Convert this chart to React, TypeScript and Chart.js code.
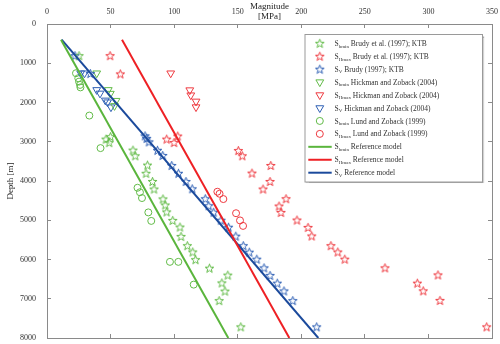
import React, { useEffect, useRef } from 'react';
import { Chart, registerables } from 'chart.js';

Chart.register(...registerables);

const FONT = '"Liberation Serif", "Times New Roman", serif';

// ---- Data (Magnitude in MPa, Depth in m) ----
const shminBrudyMPa = [25.2, 46.4, 49.9, 48.9, 67.6, 69.4, 79.0, 77.9, 83.0, 84.2, 91.2, 93.0, 94.1, 98.9, 104.6, 105.4, 110.4, 114.6, 116.8, 127.8, 142.2, 137.5, 140.0, 135.4, 152.4];
const shminBrudyDepth = [806, 2933, 2870, 3022, 3213, 3358, 3595, 3803, 4012, 4205, 4457, 4610, 4788, 5004, 5172, 5411, 5648, 5808, 6004, 6220, 6398, 6597, 6805, 7047, 7716];

const shmaxBrudyMPa = [49.6, 57.7, 94.1, 99.9, 102.8, 150.5, 153.6, 161.2, 176.0, 169.9, 175.4, 188.0, 182.5, 184.0, 196.6, 205.3, 208.2, 223.3, 228.7, 234.2, 265.8, 307.5, 291.3, 295.9, 309.1, 345.8];
const shmaxBrudyDepth = [806, 1272, 2933, 3020, 2854, 3223, 3358, 3798, 3605, 4205, 4012, 4452, 4638, 4800, 4994, 5182, 5401, 5648, 5808, 5991, 6212, 6393, 6602, 6798, 7042, 7716];

const svBrudyMPa = [22.0, 34.1, 77.1, 78.4, 80.2, 86.9, 91.0, 98.1, 103.4, 109.3, 114.2, 124.5, 127.2, 131.1, 136.9, 142.8, 148.5, 154.4, 159.1, 165.0, 170.7, 175.4, 181.1, 186.4, 193.3, 212.1];
const svBrudyDepth = [806, 1262, 2849, 2913, 3002, 3218, 3350, 3605, 3803, 4012, 4198, 4452, 4630, 4795, 4999, 5177, 5406, 5648, 5813, 5991, 6212, 6406, 6602, 6800, 7047, 7716];

const shminHickmanMPa = [39.1, 48.2, 49.8, 54.3, 53.1];
const shminHickmanDepth = [1254, 1679, 1773, 1954, 2086];

const shmaxHickmanMPa = [97.3, 112.3, 113.1, 117.2, 117.2];
const shmaxHickmanDepth = [1254, 1684, 1814, 1972, 2117];

const svHickmanMPa = [26.5, 29.5, 39.1, 41.7, 45.9, 47.6, 50.3];
const svHickmanDepth = [1254, 1254, 1679, 1768, 1946, 1992, 2119];

const shminLundMPa = [22.8, 24.6, 25.2, 26.0, 26.3, 33.3, 42.1, 71.2, 73.1, 74.7, 79.7, 82.0, 96.7, 103.3, 115.4];
const shminLundDepth = [1254, 1381, 1468, 1552, 1615, 2333, 3162, 4172, 4287, 4434, 4800, 5017, 6060, 6060, 6640];

const shmaxLundMPa = [134.0, 135.7, 138.7, 148.7, 151.8, 154.2];
const shmaxLundDepth = [4274, 4325, 4460, 4821, 5004, 5144];

const shminRefMPa = [11, 142.6];
const shminRefDepth = [400, 8000];
const shmaxRefMPa = [59, 190.6];
const shmaxRefDepth = [400, 8000];
const svRefMPa = [11.5, 213.4];
const svRefDepth = [400, 8000];

const xTickValues = [0, 50, 100, 150, 200, 250, 300, 350];
const yTickValues = [0, 1000, 2000, 3000, 4000, 5000, 6000, 7000, 8000];

const legendSubs = ['hmin', 'Hmax', 'V', 'hmin', 'Hmax', 'V', 'hmin', 'Hmax', 'hmin', 'Hmax', 'V'];
const legendTexts = [
  ' Brudy et al. (1997); KTB',
  ' Brudy et al. (1997); KTB',
  ' Brudy (1997); KTB',
  ' Hickman and Zoback (2004)',
  ' Hickman and Zoback (2004)',
  ' Hickman and Zoback (2004)',
  ' Lund and Zoback (1999)',
  ' Lund and Zoback (1999)',
  ' Reference model',
  ' Reference model',
  ' Reference model',
];

const GREEN = '#62bb48';
const RED = '#ee3a40';
const BLUE = '#2f60b5';
const GREEN_LINE = '#5ab53c';
const RED_LINE = '#ee2024';
const BLUE_LINE = '#1b4a9c';

function pts(xs: number[], ys: number[]) {
  return xs.map((x, i) => ({ x, y: ys[i] }));
}

function makeStar(color: string): HTMLCanvasElement {
  const c = document.createElement('canvas');
  c.width = 11;
  c.height = 11;
  const g = c.getContext('2d')!;
  g.strokeStyle = color;
  g.lineWidth = 1;
  g.beginPath();
  for (let i = 0; i < 10; i++) {
    const r = i % 2 === 0 ? 4.6 : 1.9;
    const a = -Math.PI / 2 + (i * Math.PI) / 5;
    const px = 5.5 + r * Math.cos(a);
    const py = 5.9 + r * Math.sin(a);
    if (i === 0) g.moveTo(px, py);
    else g.lineTo(px, py);
  }
  g.closePath();
  g.stroke();
  return c;
}

const legendPlugin = {
  id: 'customLegend',
  afterDraw(chart: any) {
    const ctx: CanvasRenderingContext2D = chart.ctx;
    ctx.save();
    const L = 305, T = 34.5, R = 482.5, B = 182;
    ctx.shadowColor = 'rgba(0,0,0,0.35)';
    ctx.shadowOffsetX = 1;
    ctx.shadowOffsetY = 1;
    ctx.shadowBlur = 1;
    ctx.fillStyle = '#ffffff';
    ctx.fillRect(L, T, R - L, B - T);
    ctx.shadowColor = 'transparent';
    ctx.strokeStyle = '#9a9a9a';
    ctx.lineWidth = 1;
    ctx.strokeRect(L, T, R - L, B - T);

    const rowY0 = 43.3;
    const rowStep = 12.94;
    const mx = 319.8;
    chart.data.datasets.forEach((ds: any, i: number) => {
      const cy = rowY0 + i * rowStep;
      ctx.lineWidth = 1;
      if (ds.showLine) {
        ctx.strokeStyle = ds.borderColor;
        ctx.lineWidth = ds.borderWidth;
        ctx.beginPath();
        ctx.moveTo(308.3, cy);
        ctx.lineTo(331.7, cy);
        ctx.stroke();
      } else if (ds.pointStyle instanceof HTMLCanvasElement) {
        const img = ds.pointStyle as HTMLCanvasElement;
        ctx.drawImage(img, mx - img.width / 2, cy - img.height / 2);
      } else if (ds.pointStyle === 'triangle') {
        const r = ds.pointRadius;
        ctx.strokeStyle = ds.borderColor;
        ctx.beginPath();
        ctx.moveTo(mx, cy + r);
        ctx.lineTo(mx - r * 0.866, cy - r / 2);
        ctx.lineTo(mx + r * 0.866, cy - r / 2);
        ctx.closePath();
        ctx.stroke();
      } else {
        ctx.strokeStyle = ds.borderColor;
        ctx.beginPath();
        ctx.arc(mx, cy, ds.pointRadius, 0, Math.PI * 2);
        ctx.stroke();
      }
      // text with subscript
      const tx = 334.5;
      ctx.fillStyle = '#333333';
      ctx.textBaseline = 'alphabetic';
      ctx.textAlign = 'left';
      ctx.font = `7.5px ${FONT}`;
      ctx.fillText('S', tx, cy + 2.6);
      const ws = ctx.measureText('S').width;
      ctx.font = `5px ${FONT}`;
      ctx.fillText(legendSubs[i], tx + ws, cy + 4.3);
      const wsub = ctx.measureText(legendSubs[i]).width;
      ctx.font = `7.5px ${FONT}`;
      ctx.fillText(legendTexts[i], tx + ws + wsub, cy + 2.6);
    });
    ctx.restore();
  },
};

function zeroPad(s: any) {
  s.paddingLeft = 0;
  s.paddingRight = 0;
  s.paddingTop = 0;
  s.paddingBottom = 0;
}

export default function App() {
  const ref = useRef<HTMLCanvasElement | null>(null);

  useEffect(() => {
    if (!ref.current) return;
    const starG = makeStar(GREEN);
    const starR = makeStar(RED);
    const starB = makeStar(BLUE);

    const pointDs = (label: string, xs: number[], ys: number[], style: any, color: string, radius: number, rotation = 0) => ({
      label,
      data: pts(xs, ys),
      pointStyle: style,
      pointRadius: radius,
      pointRotation: rotation,
      borderColor: color,
      backgroundColor: 'rgba(0,0,0,0)',
      borderWidth: 1,
      pointBorderWidth: 1,
      showLine: false,
      order: 1,
    });
    const lineDs = (label: string, xs: number[], ys: number[], color: string) => ({
      label,
      data: pts(xs, ys),
      showLine: true,
      borderColor: color,
      backgroundColor: color,
      borderWidth: 2,
      pointRadius: 0,
      order: 0,
    });

    const tickFont = { family: FONT, size: 8 };
    const gridCfg = { drawOnChartArea: false, tickLength: -4, color: '#8a8a8a', tickWidth: 1 };
    const borderCfg = { color: '#8a8a8a', width: 1 };

    const chart = new Chart(ref.current, {
      type: 'scatter',
      data: {
        datasets: [
          pointDs('Shmin Brudy et al. (1997); KTB', shminBrudyMPa, shminBrudyDepth, starG, GREEN, 4),
          pointDs('SHmax Brudy et al. (1997); KTB', shmaxBrudyMPa, shmaxBrudyDepth, starR, RED, 4),
          pointDs('SV Brudy (1997); KTB', svBrudyMPa, svBrudyDepth, starB, BLUE, 4),
          pointDs('Shmin Hickman and Zoback (2004)', shminHickmanMPa, shminHickmanDepth, 'triangle', GREEN, 4.5, 180),
          pointDs('SHmax Hickman and Zoback (2004)', shmaxHickmanMPa, shmaxHickmanDepth, 'triangle', RED, 4.5, 180),
          pointDs('SV Hickman and Zoback (2004)', svHickmanMPa, svHickmanDepth, 'triangle', BLUE, 4.5, 180),
          pointDs('Shmin Lund and Zoback (1999)', shminLundMPa, shminLundDepth, 'circle', GREEN, 3.5),
          pointDs('SHmax Lund and Zoback (1999)', shmaxLundMPa, shmaxLundDepth, 'circle', RED, 3.5),
          lineDs('Shmin Reference model', shminRefMPa, shminRefDepth, GREEN_LINE),
          lineDs('SHmax Reference model', shmaxRefMPa, shmaxRefDepth, RED_LINE),
          lineDs('SV Reference model', svRefMPa, svRefDepth, BLUE_LINE),
        ] as any,
      },
      options: {
        responsive: false,
        animation: false,
        events: [],
        layout: { padding: { left: 0, top: 0, right: 8, bottom: 6 } },
        plugins: {
          legend: { display: false },
          tooltip: { enabled: false },
        },
        scales: {
          x: {
            type: 'linear',
            position: 'top',
            min: 0,
            max: 350,
            afterBuildTicks: (s: any) => { s.ticks = xTickValues.map((v) => ({ value: v })); },
            ticks: { padding: 11, color: '#333', font: tickFont, maxRotation: 0, autoSkip: false, callback: (v: any) => String(v) },
            grid: gridCfg,
            border: borderCfg,
            title: {
              display: true,
              text: ['Magnitude', '[MPa]'],
              color: '#222',
              font: { family: FONT, size: 9, lineHeight: 1.1 },
              padding: { top: 2, bottom: 0 },
            },
            afterFit: (s: any) => { s.height = 24; zeroPad(s); },
          },
          x2: {
            type: 'linear',
            axis: 'x',
            position: 'bottom',
            min: 0,
            max: 350,
            afterBuildTicks: (s: any) => { s.ticks = xTickValues.map((v) => ({ value: v })); },
            ticks: { display: false },
            grid: gridCfg,
            border: borderCfg,
            afterFit: (s: any) => { s.height = 0; zeroPad(s); },
          },
          y: {
            type: 'linear',
            position: 'left',
            reverse: true,
            min: 0,
            max: 8000,
            afterBuildTicks: (s: any) => { s.ticks = yTickValues.map((v) => ({ value: v })); },
            ticks: { padding: 15, color: '#333', font: tickFont, autoSkip: false, callback: (v: any) => String(v) },
            grid: gridCfg,
            border: borderCfg,
            title: {
              display: true,
              text: 'Depth [m]',
              color: '#222',
              font: { family: FONT, size: 9 },
              padding: { top: 5, bottom: 0 },
            },
            afterFit: (s: any) => { s.width = 47; zeroPad(s); },
          },
          y2: {
            type: 'linear',
            axis: 'y',
            position: 'right',
            reverse: true,
            min: 0,
            max: 8000,
            afterBuildTicks: (s: any) => { s.ticks = yTickValues.map((v) => ({ value: v })); },
            ticks: { display: false },
            grid: gridCfg,
            border: borderCfg,
            afterFit: (s: any) => { s.width = 0; zeroPad(s); },
          },
        },
      } as any,
      plugins: [legendPlugin],
    });
    return () => chart.destroy();
  }, []);

  return (
    <div style={{ position: 'fixed', left: 0, top: 0, width: 500, height: 344, background: '#fff' }}>
      <canvas ref={ref} width={500} height={344} style={{ display: 'block' }} />
    </div>
  );
}
